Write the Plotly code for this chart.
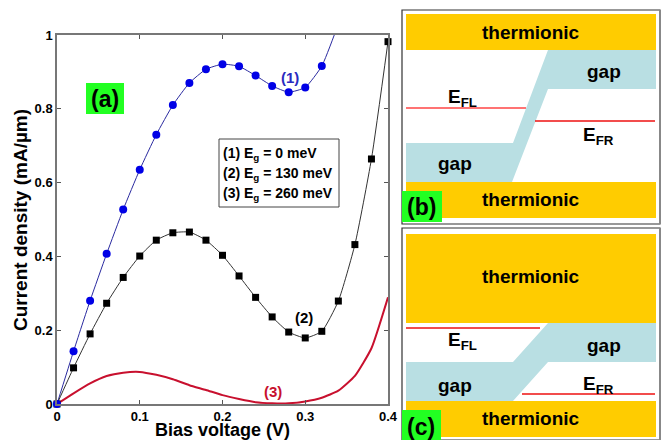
import plotly.graph_objects as go

W, H = 670, 440
FONT = "Liberation Sans"

bias = [0, .02, .04, .06, .08, .10, .12, .14, .16, .18, .20, .22, .24, .26, .28, .30, .32, .34, .36, .38, .40]
j1 = [0, .143, .28, .407, .527, .635, .73, .81, .87, .907, .921, .915, .89, .862, .845, .858, .916, 1.03]
j2 = [0, .098, .19, .273, .343, .401, .444, .464, .466, .444, .403, .347, .289, .236, .195, .179, .197, .279, .432, .664, .982]
j3 = [0, .029, .056, .076, .085, .087, .079, .067, .051, .038, .024, .0135, .005, .002, .002, .007, .017, .036, .076, .151, .289]

x_ticks = [0, .1, .2, .3, .4]
x_labels = ["0", "0.1", "0.2", "0.3", "0.4"]
y_ticks = [0, .2, .4, .6, .8, 1]
y_labels = ["0", "0.2", "0.4", "0.6", "0.8", "1"]
legend_lines = ["(1) E<sub>g</sub> = 0 meV", "(2) E<sub>g</sub> = 130 meV", "(3) E<sub>g</sub> = 260 meV"]

BLUE_LINE, BLUE = "#2a2aa0", "#0000e6"
RED = "#c8102e"
GOLD, GAP, GREEN = "#ffcc00", "#b9dfe3", "#22ff22"


def px(x):
    return x / W


def py(y):
    return 1 - y / H


def rect(x0, y0, x1, y1, fill, line=None, lw=1):
    return dict(type="rect", xref="paper", yref="paper", x0=px(x0), x1=px(x1), y0=py(y0), y1=py(y1),
                fillcolor=fill, line=dict(color=line, width=lw if line else 0), layer="above")


def hline(x0, x1, y, color):
    return dict(type="line", xref="paper", yref="paper", x0=px(x0), x1=px(x1), y0=py(y), y1=py(y),
                line=dict(color=color, width=1.5), layer="above")


def vline(x, y0, y1, color, lw):
    return dict(type="line", xref="paper", yref="paper", x0=px(x), x1=px(x), y0=py(y0), y1=py(y1),
                line=dict(color=color, width=lw), layer="above")


def poly(points, fill):
    d = "M " + " L ".join(f"{px(a):.5f} {py(b):.5f}" for a, b in points) + " Z"
    return dict(type="path", xref="paper", yref="paper", path=d, fillcolor=fill, line=dict(width=0), layer="above")


def text(x, y, s, size=19, color="black", anchor="center"):
    return dict(xref="paper", yref="paper", x=px(x), y=py(y), text=s, showarrow=False,
                xanchor=anchor, yanchor="middle", font=dict(family=FONT, size=size, color=color, weight="bold"))


smooth = dict(shape="spline", smoothing=0.5)
fig = go.Figure()
fig.add_trace(go.Scatter(x=bias[:len(j1)], y=j1, mode="lines", line=dict(color=BLUE_LINE, width=1, **smooth), cliponaxis=True))
fig.add_trace(go.Scatter(x=bias, y=j2, mode="lines", line=dict(color="#333333", width=1, **smooth), cliponaxis=True))
fig.add_trace(go.Scatter(x=bias, y=j3, mode="lines", line=dict(color=RED, width=2, **smooth), cliponaxis=True))
fig.add_trace(go.Scatter(x=bias, y=j2, mode="markers", marker=dict(symbol="square", size=7, color="black"), cliponaxis=False))
fig.add_trace(go.Scatter(x=bias[:17], y=j1[:17], mode="markers", marker=dict(symbol="circle", size=8, color=BLUE), cliponaxis=False))

axis = dict(showgrid=False, zeroline=False, showline=True, mirror="ticks", linecolor="#777777", linewidth=1.5,
            ticks="inside", ticklen=4, tickcolor="#555555", tickmode="array",
            tickfont=dict(family=FONT, size=13, color="black", weight="bold"))

shapes = [
    # panel (b)
    rect(402, 10, 660, 224, "white", "#333333", 1.2),
    rect(406, 14, 656, 50, GOLD),
    rect(406, 182, 656, 218, GOLD),
    poly([(406, 143), (513, 143), (548, 50), (656, 50), (656, 89), (548, 89), (512, 182), (406, 182)], GAP),
    hline(406, 526, 108, "#ff4444"),
    hline(535, 655, 121, "#ee1111"),
    rect(402, 191, 442, 222, GREEN),
    vline(660, 10, 224, "#888888", 2),
    # panel (c)
    rect(402, 228, 660, 440, "white", "#333333", 1.2),
    rect(406, 234, 656, 323, GOLD),
    rect(406, 401, 656, 437, GOLD),
    poly([(406, 362), (513, 362), (548, 323), (656, 323), (656, 362), (548, 362), (513, 401), (406, 401)], GAP),
    hline(406, 540, 328, "#ee1111"),
    hline(522, 655, 394, "#ee1111"),
    rect(402, 410, 441, 440, GREEN),
    vline(660, 228, 440, "#888888", 2),
    # panel (a) labels
    rect(86, 83, 124, 114, GREEN),
    rect(219, 139, 339, 207, "white", "#444444", 1),
]

annotations = [
    text(105, 99, "(a)", 23),
    text(290, 77, "(1)", 15, "#2a2ac0"),
    text(304, 317, "(2)", 15),
    text(273, 391, "(3)", 15, RED),
    text(221, 154, legend_lines[0], 14, anchor="left"),
    text(221, 174, legend_lines[1], 14, anchor="left"),
    text(221, 194, legend_lines[2], 14, anchor="left"),
    text(531, 32, "thermionic"),
    text(531, 199, "thermionic"),
    text(604, 71, "gap"),
    text(455, 163, "gap"),
    text(462, 98, "E<sub>FL</sub>"),
    text(598, 136, "E<sub>FR</sub>"),
    text(422, 207, "(b)", 23),
    text(531, 276, "thermionic"),
    text(531, 418, "thermionic"),
    text(604, 345, "gap"),
    text(455, 385, "gap"),
    text(462, 341, "E<sub>FL</sub>"),
    text(598, 385, "E<sub>FR</sub>"),
    text(421, 427, "(c)", 23),
    text(222, 430, "Bias voltage (V)", 18),
    dict(xref="paper", yref="paper", x=px(20), y=py(220), text="Current density (mA/µm)", textangle=-90,
         showarrow=False, xanchor="center", yanchor="middle",
         font=dict(family=FONT, size=19, color="black", weight="bold")),
]

fig.update_layout(
    width=W, height=H, autosize=False, showlegend=False,
    margin=dict(l=0, r=0, t=0, b=0, pad=0, autoexpand=False), paper_bgcolor="white", plot_bgcolor="white",
    xaxis=dict(domain=[px(57), px(388)], range=[0, .4], tickvals=x_ticks, ticktext=x_labels, **axis),
    yaxis=dict(domain=[py(404), py(35)], range=[0, 1], tickvals=y_ticks, ticktext=y_labels, **axis),
    shapes=shapes, annotations=annotations,
)
reset_page = (
    "document.documentElement.style.overflow='hidden';"
    "document.body.style.margin='0';"
    "var d=document.querySelector('.plotly-graph-div');"
    "d.style.position='absolute';d.style.left='0';d.style.top='0';"
)
fig.write_html("out.html", post_script=reset_page, config={"displayModeBar": False})
